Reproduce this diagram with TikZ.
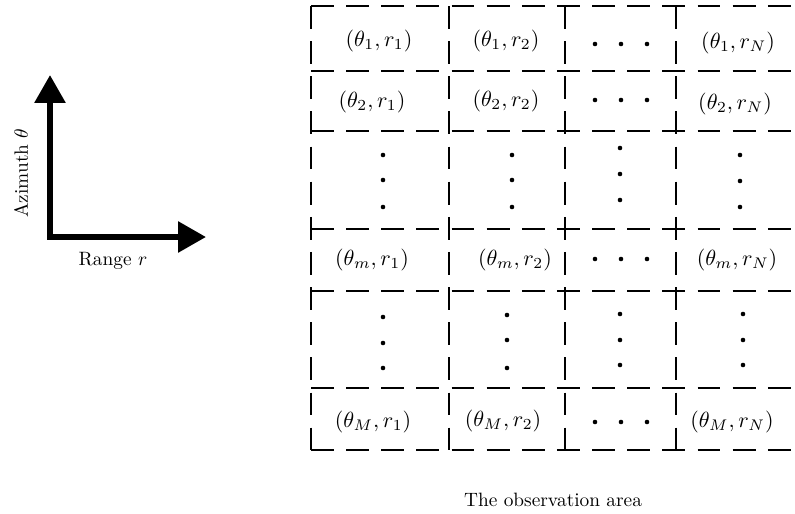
\documentclass[tikz,border=0pt]{standalone}
\usepackage{fontspec}
\usetikzlibrary{arrows.meta}
\begin{document}
\begin{tikzpicture}[x=0.02cm,y=-0.02cm,
    luoi/.style={line width=1.6pt,dash pattern=on 13pt off 7pt},
    truc/.style={line width=3.4pt,line join=miter,
      {Triangle[length=0.56cm,width=0.6cm]}-{Triangle[length=0.56cm,width=0.6cm]}},
    nhan/.style={scale=1.25},
    chu/.style={scale=1.1},
    cham/.style={fill=black}]
    \useasboundingbox (0,0) rectangle (795,514);
    % Vẽ hệ trục
    \coordinate (goc) at (50,237);
    \coordinate (dinhtheta) at (50,75);
    \coordinate (dinhr) at (206,237);
    \draw[truc] (dinhtheta) -- (goc) -- (dinhr);
    \node[chu,rotate=90] (phuongvi) at (21,173) {Azimuth $\theta$};
    \node[chu] (culy) at (113,261) {Range $r$};
    
    % Vẽ lưới
    \foreach \x in {311,449,565,676}
    \draw[luoi] (\x,6) -- (\x,450);
    \foreach \y in {6,71,131,229,291,388,450}
    \draw[luoi] (311,\y) -- (795,\y);
    
    % Ghi nhãn các ô
    \node[nhan] (o11) at (379,41) {$(\theta_1, r_1)$};
    \node[nhan] (o12) at (506,41) {$(\theta_1, r_2)$};
    \node[nhan] (o1N) at (738,43) {$(\theta_1, r_N)$};
    \node[nhan] (o21) at (372,102) {$(\theta_2, r_1)$};
    \node[nhan] (o22) at (506,101) {$(\theta_2, r_2)$};
    \node[nhan] (o2N) at (735,104) {$(\theta_2, r_N)$};
    \node[nhan] (om1) at (372,260) {$(\theta_m, r_1)$};
    \node[nhan] (om2) at (515,260) {$(\theta_m, r_2)$};
    \node[nhan] (omN) at (737,260) {$(\theta_m, r_N)$};
    \node[nhan] (oM1) at (373,422) {$(\theta_M, r_1)$};
    \node[nhan] (oM2) at (503,421) {$(\theta_M, r_2)$};
    \node[nhan] (oMN) at (732,422) {$(\theta_M, r_N)$};
    
    % Dấu chấm ngang
    \foreach \y in {44,100,259,422}
    \foreach \x in {595,621,647}
    \fill[cham] (\x,\y) circle (1.3pt);
    
    % Dấu chấm dọc
    \foreach \x/\a/\b/\c in {383/155/180/207,512/155/180/207,620/148/174/200,740/155/181/207,
      383/317/343/368,507/315/340/368,620/314/340/365,743/314/340/365}
    {\fill[cham] (\x,\a) circle (1.3pt);
     \fill[cham] (\x,\b) circle (1.3pt);
     \fill[cham] (\x,\c) circle (1.3pt);}
    
    \node[chu] (vung) at (553,500) {The observation area};
\end{tikzpicture}
\end{document}
